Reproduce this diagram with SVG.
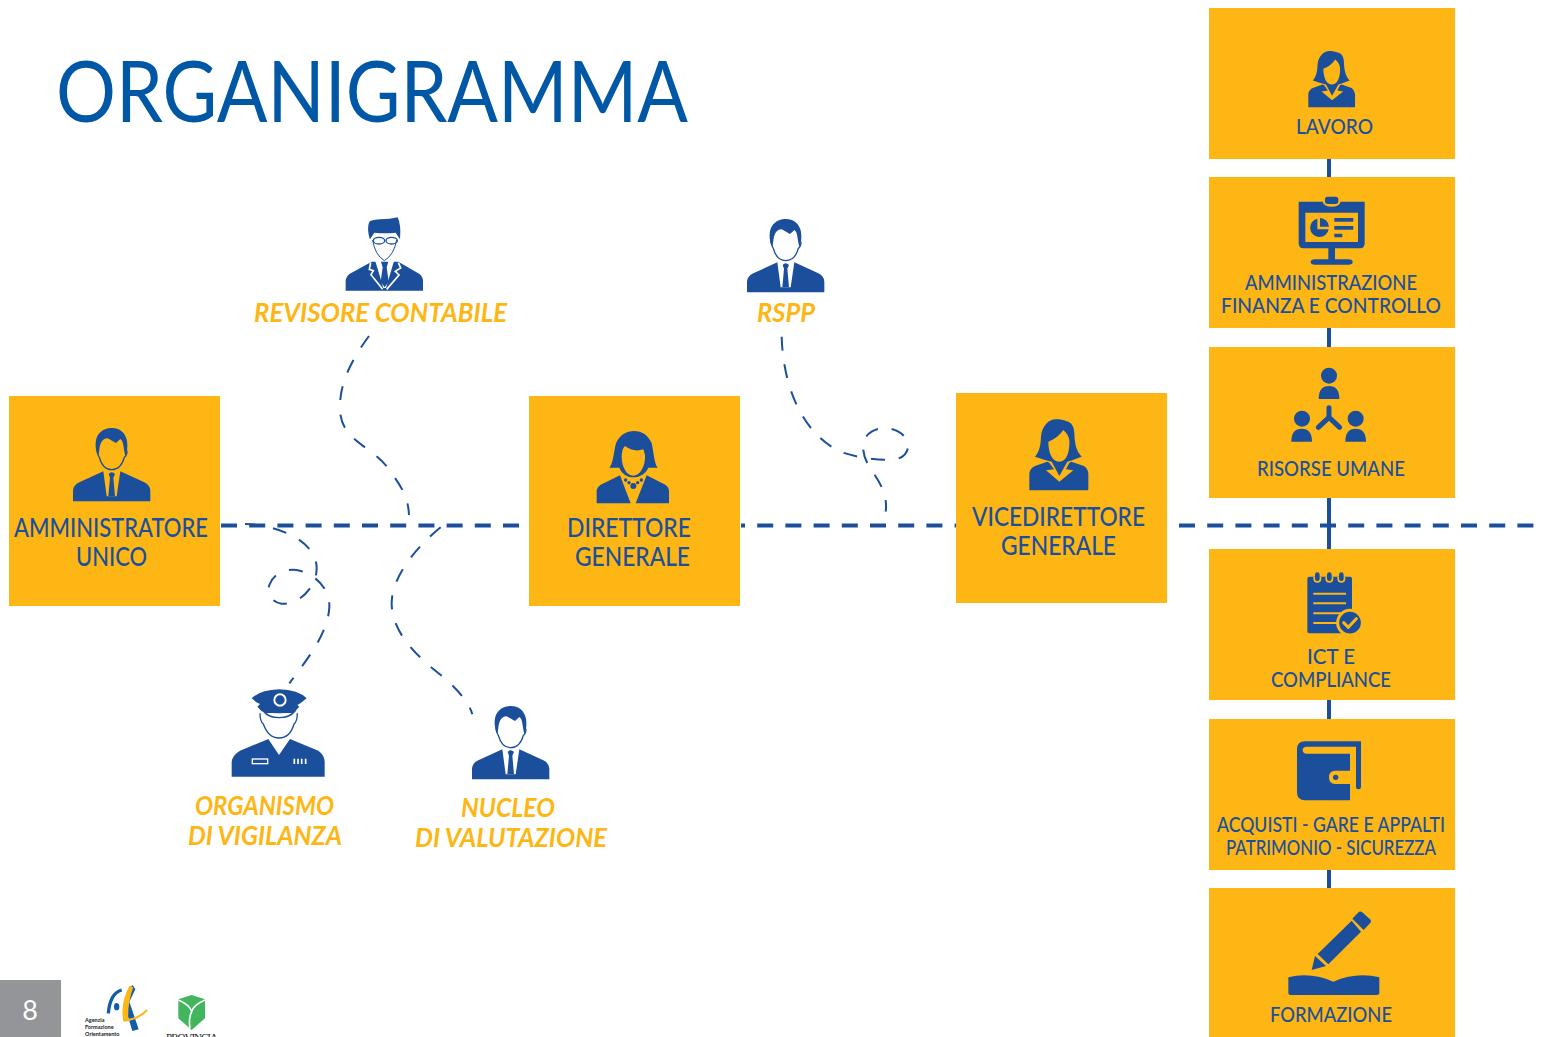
<svg xmlns="http://www.w3.org/2000/svg" width="1544" height="1037" viewBox="0 0 1544 1037">
<style>
text{font-family:"Lato","Open Sans","Liberation Sans",sans-serif}
.box{fill:#FDB614}
.b{fill:#1B4F9C}
.y{fill:#FDB614}
.w{fill:#fff}
.lb{font-size:26px;fill:#1B4F9C;font-weight:500}
.ls{font-size:21.5px;fill:#1B4F9C;font-weight:500}
.it{font-size:26px;fill:#FDB614;font-style:italic;font-weight:700}
.main{fill:none;stroke:#1B4F9C;stroke-width:4;stroke-dasharray:16 12.2}
.thin{fill:none;stroke:#1B4F9C;stroke-width:6;stroke-dasharray:42 43}
.tr{stroke:#1B4F9C;stroke-width:4;fill:none}
</style>
<defs>
<g id="man">
<path class="b" d="M21 247V215Q22 198 40 190L112 157L122 232H152L163 157L235 190Q252 198 253 215V247Z"/>
<path class="b" d="M128 165Q137 155 147 165L142 176L147 232H127L132 176Z"/>
<path class="b" d="M97 112C85 90 88 60 95 50C105 32 125 27 138 27C160 27 178 40 183 65C186 85 183 100 178 112L174 92C172 75 170 65 163 60L150 72L125 58C110 58 103 70 100 92Z"/>
<path d="M93 95Q97 112 100 115Q110 152 137 152Q165 152 175 115Q183 110 183 95" fill="none" stroke="#1B4F9C" stroke-width="4"/>
</g>
<path id="womanBody" class="b" fill-rule="evenodd" d="M58 240V190Q60 175 75 168L112 155L118 158L132 178L108 181L148 215L190 181L168 178L178 158L184 155L222 168Q233 175 235 190V240Q235 241 230 241H63Q58 241 58 240Z"/>
<g id="woman">
<use href="#womanBody"/>
<path class="b" fill-rule="evenodd" d="M75 140C88 125 92 105 93 80C95 50 115 28 138 28C150 28 160 30 170 34C185 38 192 50 193 70C194 105 200 125 215 140C200 145 190 150 172 155L148 198L125 155C105 150 90 145 75 140ZM115 95C115 125 125 155 148 155C170 155 180 125 178 90C176 78 170 68 160 60C150 75 135 88 115 95Z"/>
</g>
</defs>

<g id="title"><text x="56" y="122" font-size="85" fill="#0057A6" textLength="632" lengthAdjust="spacingAndGlyphs">ORGANIGRAMMA</text></g>

<g id="connectors">
<path class="main" d="M221 525.5H519"/>
<path class="main" stroke-dashoffset="12" d="M741 525.5H956"/>
<path class="main" d="M1179 525.5H1534"/>
<path class="tr" d="M1329 159V888"/>
<g transform="translate(210 510) scale(.33333)">
<path class="thin" d="M105 42C200 45 320 90 320 175C320 225 275 283 215 281C185 278 170 250 178 225C190 190 230 172 270 182C320 195 360 240 358 290C355 370 290 450 238 520"/>
<path class="thin" d="M692 52C620 110 545 200 545 280C545 360 610 430 680 485C730 525 775 570 787 613"/>
</g>
<g transform="translate(740 210) scale(.33333)">
<path class="thin" style="stroke-dasharray:42 41.5" d="M125 380C128 500 170 660 300 725C340 740 420 755 470 747C500 740 515 710 495 682C475 655 430 645 395 665C360 685 365 730 385 765C405 800 445 840 437 905"/>
</g>
<path fill="none" stroke="#1B4F9C" stroke-width="2" stroke-dasharray="14 14.5" d="M369 336C350 362 339 385 340 410C341 440 370 445 388 468C400 485 408 495 409 515"/>
</g>

<g id="revisore">
<g transform="translate(330 210) scale(.33333)">
<path class="b" d="M47 242V210Q50 195 65 188L125 155H205L262 188Q277 195 279 210V242Z"/>
<path class="w" d="M135 150L160 234H168L193 150Z"/>
<path d="M122 158L118 178L130 182L123 194L158 238M205 158L212 174L196 184L207 195L170 238" fill="none" stroke="#fff" stroke-width="5"/>
<path class="b" d="M153 155H175L170 172L176 215L164 232L152 215L158 172Z"/>
<path class="w" d="M128 90Q135 135 163 152Q192 135 200 90Z"/>
<path class="b" d="M120 88C112 65 113 42 120 33Q135 28 150 28Q180 28 203 22Q214 45 210 88L197 68Q165 72 133 68Z"/>
<path d="M128 90Q135 135 163 152Q192 135 200 90" fill="none" stroke="#1B4F9C" stroke-width="3"/>
<ellipse cx="147" cy="92" rx="17" ry="10" fill="none" stroke="#1B4F9C" stroke-width="4"/>
<ellipse cx="185" cy="92" rx="17" ry="10" fill="none" stroke="#1B4F9C" stroke-width="4"/>
</g>
<text class="it" x="254" y="322" textLength="253" lengthAdjust="spacingAndGlyphs">REVISORE CONTABILE</text>
</g>

<g id="rspp">
<use href="#man" transform="translate(740 210) scale(.33333)"/>
<text class="it" x="757" y="322" textLength="58" lengthAdjust="spacingAndGlyphs">RSPP</text>
</g>

<g id="amministratore">
<rect class="box" x="9" y="396" width="211" height="210"/>
<use href="#man" transform="translate(66 419) scale(.33333)"/>
<text class="lb" x="14" y="537" textLength="194" lengthAdjust="spacingAndGlyphs">AMMINISTRATORE</text>
<text class="lb" x="76" y="566" textLength="71" lengthAdjust="spacingAndGlyphs">UNICO</text>
</g>

<g id="direttore">
<rect class="box" x="529" y="396" width="211" height="210"/>
<g transform="translate(580 420) scale(.33333)">
<path class="b" fill-rule="evenodd" d="M88 143C100 130 100 100 108 70C118 45 140 33 162 33C185 33 205 45 215 70C222 100 222 130 233 143H205C198 160 180 172 160 172C140 172 125 160 118 143ZM125 110C125 140 140 167 160 167C182 167 197 135 195 105C193 100 192 92 190 88C170 95 150 90 135 78C128 85 125 95 125 110Z"/>
<path class="b" d="M50 250V210Q52 200 62 194L120 166L152 250ZM200 166L256 194Q267 202 267 212V250H167Z"/>
<circle class="b" cx="137" cy="180" r="5"/><circle class="b" cx="147" cy="188" r="5"/><circle class="b" cx="160" cy="198" r="9"/><circle class="b" cx="173" cy="188" r="5"/><circle class="b" cx="184" cy="180" r="5"/>
</g>
<text class="lb" x="567" y="537" textLength="124" lengthAdjust="spacingAndGlyphs">DIRETTORE</text>
<text class="lb" x="575" y="566" textLength="115" lengthAdjust="spacingAndGlyphs">GENERALE</text>
</g>

<g id="vicedirettore">
<rect class="box" x="956" y="393" width="211" height="210"/>
<use href="#woman" transform="translate(1010 410) scale(.33333)"/>
<text class="lb" x="972" y="526" textLength="173" lengthAdjust="spacingAndGlyphs">VICEDIRETTORE</text>
<text class="lb" x="1001" y="555" textLength="115" lengthAdjust="spacingAndGlyphs">GENERALE</text>
</g>

<g id="organismo">
<g transform="translate(210 510) scale(.33333)">
<path class="b" d="M65 800V755Q68 735 90 722L175 687L207 735L240 687L325 722Q343 735 344 755V800Z"/>
<rect x="127" y="747" width="46" height="14" class="b" stroke="#fff" stroke-width="4"/>
<path d="M253 746V762M264 746V762M275 746V762M287 746V762" stroke="#fff" stroke-width="5"/>
<path class="b" d="M125 565Q150 540 207 538Q265 540 290 565Q272 580 262 585L268 590L255 604Q205 615 155 604L142 590L150 582Q135 575 125 565Z"/>
<circle cx="210" cy="570" r="17" fill="#1B4F9C" stroke="#fff" stroke-width="6"/>
<path d="M160 603Q205 612 255 603Q240 623 207 623Q175 623 160 603Z" class="w" stroke="#1B4F9C" stroke-width="4"/>
<path d="M150 610Q150 635 160 642Q175 684 207 684Q240 684 252 642Q262 635 262 610" fill="none" stroke="#1B4F9C" stroke-width="4"/>
</g>
<text class="it" x="195" y="815" textLength="139" lengthAdjust="spacingAndGlyphs">ORGANISMO</text>
<text class="it" x="188" y="845" textLength="154" lengthAdjust="spacingAndGlyphs">DI VIGILANZA</text>
</g>

<g id="nucleo">
<use href="#man" transform="translate(465 697) scale(.33333)"/>
<text class="it" x="461" y="817" textLength="94" lengthAdjust="spacingAndGlyphs">NUCLEO</text>
<text class="it" x="415" y="847" textLength="192" lengthAdjust="spacingAndGlyphs">DI VALUTAZIONE</text>
</g>

<g id="lavoro">
<rect class="box" x="1209" y="8" width="246" height="151"/>
<use href="#woman" transform="translate(1293 43.6) scale(.264)"/>
<text class="ls" x="1296" y="134" textLength="77" lengthAdjust="spacingAndGlyphs">LAVORO</text>
</g>

<g id="amministrazione">
<rect class="box" x="1209" y="177" width="246" height="151"/>
<g transform="translate(1200 0) scale(.33333)">
<path class="b" fill-rule="evenodd" d="M296 605H368Q372 620 395 620Q418 620 422 605H494V730Q494 745 480 745H405V778H445Q458 778 458 786Q458 794 445 794H345Q332 794 332 786Q332 778 345 778H385V745H310Q296 745 296 730ZM316 638V726H474V638Z"/>
<rect class="b" x="375" y="590" width="40" height="22" rx="8"/>
<path class="b" d="M352 656A28 28 0 1 0 386 688H352Z"/>
<path class="b" d="M360 654A28 28 0 0 1 387 680H360Z"/>
<path class="b" d="M403 654H460V665H403ZM403 678H460V689H403ZM403 701H427V712H403Z"/>
</g>
<text class="ls" x="1245" y="290" textLength="172" lengthAdjust="spacingAndGlyphs">AMMINISTRAZIONE</text>
<text class="ls" x="1221" y="313" textLength="220" lengthAdjust="spacingAndGlyphs">FINANZA E CONTROLLO</text>
</g>

<g id="risorse">
<rect class="box" x="1209" y="347" width="246" height="151"/>
<g transform="translate(1200 340) scale(.33333)">
<circle class="b" cx="387" cy="107" r="24"/><path class="b" d="M356 177Q356 138 387 138Q418 138 418 177Z"/>
<circle class="b" cx="306" cy="236" r="24"/><path class="b" d="M274 305Q274 266 305 266Q336 266 336 305Z"/>
<circle class="b" cx="467" cy="236" r="24"/><path class="b" d="M436 305Q436 266 467 266Q498 266 498 305Z"/>
<path d="M387 203V232L355 262M387 232L419 262" fill="none" stroke="#1B4F9C" stroke-width="15" stroke-linecap="round" stroke-linejoin="round"/>
</g>
<text class="ls" x="1257" y="476" textLength="148" lengthAdjust="spacingAndGlyphs">RISORSE UMANE</text>
</g>

<g id="ict">
<rect class="box" x="1209" y="549" width="246" height="151"/>
<g transform="translate(1200 340) scale(.33333)">
<rect class="b" x="322" y="710" width="134" height="170" rx="6"/>
<path d="M340 710V716Q340 728 352 728Q364 728 364 716V710M376 710V716Q376 728 388 728Q400 728 400 716V710M412 710V716Q412 728 424 728Q436 728 436 716V710" fill="#FDB614"/>
<path d="M352 704V716M388 704V716M424 704V716" stroke="#1B4F9C" stroke-width="14" stroke-linecap="round"/>
<path d="M340 761H438M340 790H438M340 820H438M340 849H438" stroke="#FDB614" stroke-width="6"/>
<circle class="b" cx="450" cy="848" r="37" stroke="#FDB614" stroke-width="9"/>
<path d="M431 848L445 862L469 836" fill="none" stroke="#FDB614" stroke-width="9" stroke-linecap="round" stroke-linejoin="round"/>
</g>
<text class="ls" x="1307" y="664" textLength="48" lengthAdjust="spacingAndGlyphs">ICT E</text>
<text class="ls" x="1271" y="687" textLength="120" lengthAdjust="spacingAndGlyphs">COMPLIANCE</text>
</g>

<g id="acquisti">
<rect class="box" x="1209" y="719" width="246" height="151"/>
<g transform="translate(1200 700) scale(.33333)">
<path class="b" d="M315 124H483V262Q483 268 475 268Q468 268 468 262V140H318Q308 142 308 150Q308 160 318 161H450V212H405Q387 212 387 232Q387 252 405 252H450V301H315Q291 301 291 277V148Q291 124 315 124Z"/>
<circle class="b" cx="407" cy="232" r="8"/>
</g>
<text class="ls" x="1217" y="832" textLength="228" lengthAdjust="spacingAndGlyphs">ACQUISTI - GARE E APPALTI</text>
<text class="ls" x="1226" y="855" textLength="210" lengthAdjust="spacingAndGlyphs">PATRIMONIO - SICUREZZA</text>
</g>

<g id="formazione">
<rect class="box" x="1209" y="888" width="246" height="149"/>
<g transform="translate(1200 700) scale(.33333)">
<path class="b" d="M353 762L455 662L483 695L385 793Z"/>
<path class="b" d="M457 656L474 638Q480 632 487 637L510 658Q516 664 510 670L491 690Z"/>
<path class="b" d="M345 768L378 798L335 810Z"/>
<path class="b" d="M265 832Q330 815 400 845Q470 815 538 832V880Q538 885 530 885H272Q265 885 265 880Z"/>
</g>
<text class="ls" x="1270" y="1022" textLength="122" lengthAdjust="spacingAndGlyphs">FORMAZIONE</text>
</g>

<g id="footer">
<rect x="0" y="980" width="61" height="57" fill="#939598"/>
<text x="30" y="1020" font-size="27" fill="#fff" text-anchor="middle">8</text>
<g transform="translate(0 950) scale(.33333)">
<path d="M325 190Q330 130 365 120" fill="none" stroke="#0F5CA8" stroke-width="10"/>
<ellipse cx="350" cy="170" rx="8" ry="11" fill="#0F5CA8"/>
<path d="M385 118L398 105L406 118L388 155L416 238L397 243L372 160Z" fill="#0F5CA8"/>
<path d="M388 108L400 112Q382 160 385 210L370 214Q360 160 388 108Z" fill="#FDB614"/>
<path d="M372 212Q415 208 441 180" fill="none" stroke="#FDB614" stroke-width="6"/>
<path d="M535 148L575 135L615 148V205L575 240L535 205Z" fill="#41B65C"/>
<path d="M535 150Q570 165 575 185M615 150Q580 165 575 185Q565 205 570 235" fill="none" stroke="#fff" stroke-width="5"/>
</g>
<g font-size="5.5" font-weight="700" fill="#222">
<text x="85" y="1022">Agenzia</text>
<text x="85" y="1029">Formazione</text>
<text x="85" y="1036">Orientamento</text>
</g>
<text x="166" y="1041" font-size="11" fill="#222" style="font-family:'Liberation Serif',serif" textLength="52">PROVINCIA</text>
</g>
</svg>
